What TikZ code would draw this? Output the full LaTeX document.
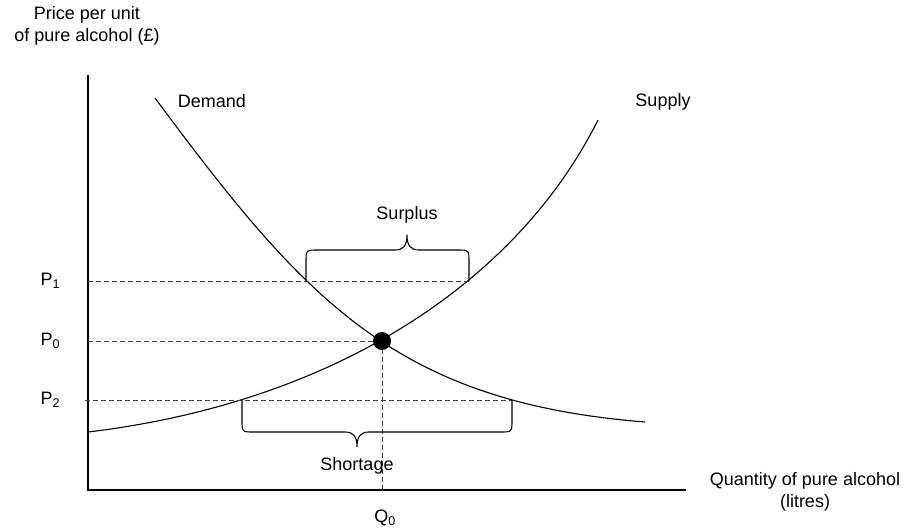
\documentclass[tikz,border=0pt]{standalone}
\usepackage{fontspec}
\setmainfont{Liberation Sans}
\usetikzlibrary{positioning}

\begin{document}
\begin{tikzpicture}[x=1pt, y=-1pt, line width=1.1pt,
    every node/.style={align=center, inner sep=0pt, font=\fontsize{18}{22}\selectfont},
    guide/.style={line width=0.9pt, black!75, dash pattern=on 5pt off 3pt},
    curve/.style={line width=1.1pt},
    bracepath/.style={line width=1.1pt},
    dot/.style={circle, fill=black, minimum size=18pt}]
      \useasboundingbox (0,0) rectangle (904,528);

      % axes
      \coordinate (ytop) at (88,75);
      \coordinate (origin) at (88,490);
      \coordinate (xend) at (686,490);
      \draw (ytop) -- (origin) -- (xend);
      \node (ylabel) at (87,26) {Price per unit\\of pure alcohol (£)};
      \node (xlabel) at (805,492) {Quantity of pure alcohol\\(litres)};

      % crossing points
      \coordinate (E) at (382,341);
      \coordinate (d1) at (306,281); \coordinate (s1) at (469,281);
      \coordinate (s2) at (242,400); \coordinate (d2) at (512,400);

      % curves
      \draw[curve] (155,98) .. controls (305,300) and (395,402) .. (645,422);
      \draw[curve] (88,432) .. controls (338,402) and (518,280) .. (598,120);
      \node (demand) at (212,101) {Demand};
      \node (supply) at (663,102) {Supply};

      % price levels
      \draw[guide] (s1 -| origin) -- (s1);
      \draw[guide] (E -| origin) -- (E);
      \draw[guide] ([xshift=-3pt]d2 -| origin) -- (d2);
      \draw[guide] (E) -- (E |- origin);
      \foreach \c/\i in {s1/1, E/0, d2/2} {
        \node[anchor=west] (p\i) at (\c -| 40,0) {P\textsubscript{\i}};
      }
      \node (q0) at (385,518) {Q\textsubscript{0}};
      \node[dot] (eq) at (E) {};

      % braces
      \draw[bracepath] (d1) -- (306,262) .. controls (306,250) and (306,250) .. (318,250) -- (395,250)
        .. controls (403,250) and (407,246) .. (407,235) .. controls (407,246) and (411,250) .. (419,250)
        -- (457,250) .. controls (469,250) and (469,250) .. (469,262) -- (s1);
      \node (surplus) at (407,215) {Surplus};
      \draw[bracepath] (s2) -- (242,420) .. controls (242,432) and (242,432) .. (254,432) -- (345,432)
        .. controls (353,432) and (357,436) .. (357,447) .. controls (357,436) and (361,432) .. (369,432)
        -- (500,432) .. controls (512,432) and (512,432) .. (512,420) -- (d2);
      \node (shortage) at (357,466) {Shortage};
    \end{tikzpicture}
\end{document}
